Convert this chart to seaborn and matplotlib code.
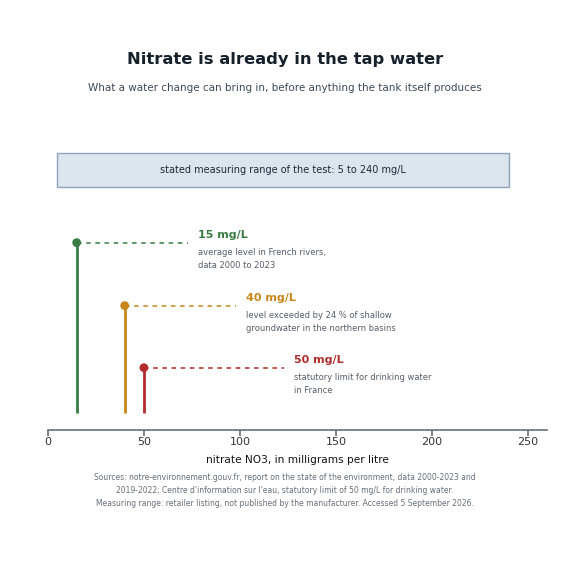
import matplotlib
matplotlib.use("Agg")
import matplotlib.pyplot as plt
import seaborn as sns
import pandas as pd

# data
values = [15, 40, 50]
labels = ["15 mg/L", "40 mg/L", "50 mg/L"]
notes = ["average level in French rivers,\ndata 2000 to 2023",
         "level exceeded by 24 % of shallow\ngroundwater in the northern basins",
         "statutory limit for drinking water\nin France"]
range_low, range_high = 5, 240

colors = ["#3a7d44", "#c8861a", "#b22c2c"]
heights = [6.45, 4.28, 2.14]
label_x = [78, 103, 128]

sns.set_theme(style="white")
plt.rcParams['font.family'] = ['DejaVu Sans']

fig = plt.figure(figsize=(5.7, 5.7), dpi=100)
ax = fig.add_axes([0.084, 0.246, 0.876, 0.509])
ax.set_xlim(0, 260)
ax.set_ylim(0, 10)

ax.axvspan(range_low, range_high, ymin=0.838, ymax=0.955, facecolor="#dce4ee",
           edgecolor="#8fa3bb", lw=1)
ax.text((range_low + range_high) / 2, 8.965,
        f"stated measuring range of the test: {range_low} to {range_high} mg/L",
        ha="center", va="center", fontsize=7, color="#1f2a36")

df = pd.DataFrame({"v": values, "h": heights})
for v, h, c, lab, note, lx in zip(values, heights, colors, labels, notes, label_x):
    ax.plot([v, v], [0.59, h], color=c, lw=2, solid_capstyle="butt")
    ax.plot([v, lx - 5], [h, h], color=c, lw=1.1, ls=(0, (3, 3)))
    ax.text(lx, h + 0.25, lab, color=c, fontsize=8, fontweight="bold", va="center")
    ax.text(lx, h - 0.2, note, color="#555e6b", fontsize=6, va="top", linespacing=1.45)
sns.scatterplot(data=df, x="v", y="h", hue="v", palette=colors, s=40,
                legend=False, ax=ax, zorder=5, edgecolor="none")

for s in ["top", "right", "left"]:
    ax.spines[s].set_visible(False)
ax.spines["bottom"].set_color("#6b7480")
ax.set_yticks([])
ax.set_ylabel("")
ax.set_xticks([0, 50, 100, 150, 200, 250])
ax.tick_params(axis="x", bottom=True, length=4, color="#6b7480", labelsize=8, labelcolor="#333333", pad=1)
ax.set_xlabel("nitrate NO3, in milligrams per litre", fontsize=7.6, color="#111111", labelpad=6)

fig.text(0.5, 0.895, "Nitrate is already in the tap water", ha="center", va="center",
         fontsize=11.8, fontweight="bold", color="#16212c")
fig.text(0.5, 0.845, "What a water change can bring in, before anything the tank itself produces",
         ha="center", va="center", fontsize=7.5, color="#3d4a59")
fig.text(0.5, 0.139,
         "Sources: notre-environnement.gouv.fr, report on the state of the environment, data 2000-2023 and\n"
         "2019-2022; Centre d'information sur l'eau, statutory limit of 50 mg/L for drinking water.\n"
         "Measuring range: retailer listing, not published by the manufacturer. Accessed 5 September 2026.",
         ha="center", va="center", fontsize=5.5, color="#666e78", linespacing=1.55)

fig.savefig("out.png", dpi=100)
